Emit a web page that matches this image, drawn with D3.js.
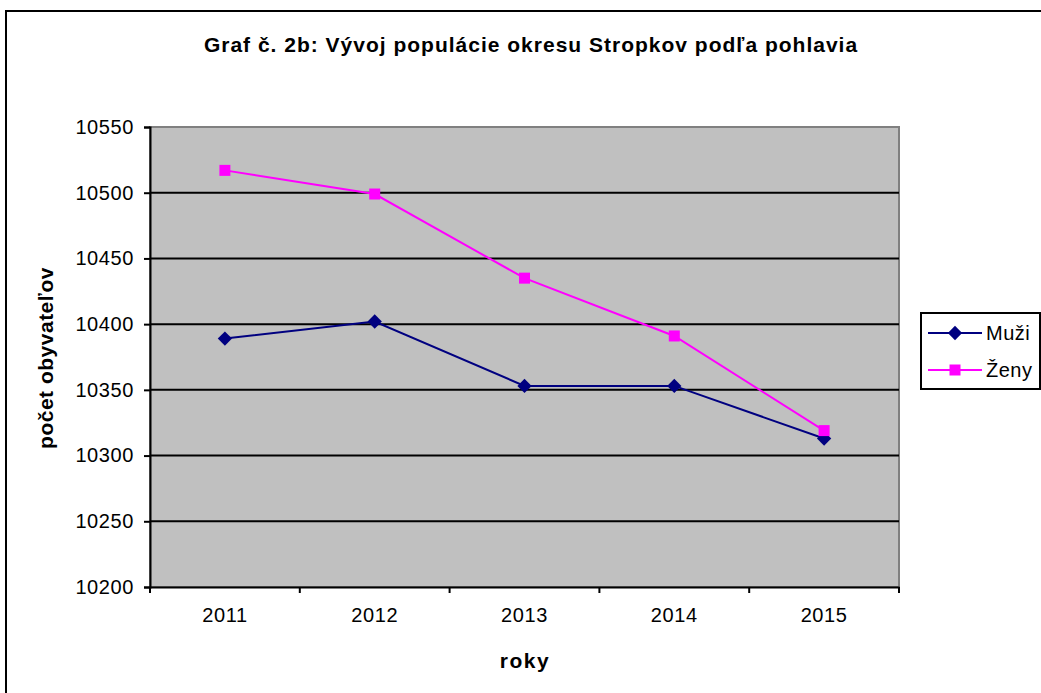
<!DOCTYPE html>
<html><head><meta charset="utf-8">
<script src="https://cdn.jsdelivr.net/npm/d3@7"></script>
<style>body{margin:0;background:#fff;} text{font-family:Arial,"Liberation Sans",sans-serif;}</style>
</head><body>
<svg id="chart" width="1041" height="693"></svg>
<script>
const years = ["2011","2012","2013","2014","2015"];
const muzi = [10389, 10402, 10353, 10353, 10313];
const zeny = [10517, 10499, 10435, 10391, 10319];
const yTicks = [10200,10250,10300,10350,10400,10450,10500,10550];
const seriesNames = ["Muži","Ženy"];
const title = "Graf č. 2b: Vývoj populácie okresu Stropkov podľa pohlavia";
const xTitle = "roky";
const yTitle = "počet obyvateľov";

const svg = d3.select("#chart");
const m = {left:150, right:899, top:127, bottom:587};
const FF = "Arial, 'Liberation Sans', sans-serif";

// outer frame
svg.append("rect").attr("x",6).attr("y",11).attr("width",1100).attr("height",800)
  .attr("fill","#fff").attr("stroke","#000").attr("stroke-width",2);

const x = d3.scaleBand().domain(years).range([m.left,m.right]);
const y = d3.scaleLinear().domain([10200,10550]).range([m.bottom,m.top]);

// plot bg
svg.append("rect").attr("x",m.left).attr("y",m.top).attr("width",m.right-m.left).attr("height",m.bottom-m.top)
  .attr("fill","#C0C0C0").attr("stroke","#808080").attr("stroke-width",2);

// gridlines
svg.append("g").selectAll("line").data(yTicks.slice(1,-1)).join("line")
  .attr("x1",m.left).attr("x2",m.right).attr("y1",d=>y(d)).attr("y2",d=>y(d))
  .attr("stroke","#000").attr("stroke-width",2);

// y axis
const ya = svg.append("g").attr("transform",`translate(${m.left},0)`)
  .call(d3.axisLeft(y).tickValues(yTicks).tickSize(6).tickPadding(10).tickFormat(d3.format("d")));
ya.select(".domain").attr("stroke","#000").attr("stroke-width",2);
ya.selectAll(".tick line").attr("stroke","#000").attr("stroke-width",2);
ya.selectAll(".tick text").attr("font-size",20).attr("letter-spacing",0.6).attr("fill","#000").attr("font-family",FF);

// x axis
const xa = svg.append("g").attr("transform",`translate(0,${m.bottom})`)
  .call(d3.axisBottom(x).tickSize(0).tickPadding(21));
xa.select(".domain").attr("stroke","#000").attr("stroke-width",2);
xa.selectAll(".tick text").attr("font-size",20).attr("letter-spacing",0.6).attr("fill","#000").attr("font-family",FF);
// category boundary ticks
const bounds = years.map(d=>x(d)).concat([x(years[years.length-1])+x.bandwidth()]);
svg.append("g").selectAll("line").data(bounds).join("line")
  .attr("x1",d=>d).attr("x2",d=>d).attr("y1",m.bottom).attr("y2",m.bottom+6)
  .attr("stroke","#000").attr("stroke-width",2);

const cx = d => x(d)+x.bandwidth()/2;
const line = d3.line().x((d,i)=>cx(years[i])).y(d=>y(d));

svg.append("path").datum(muzi).attr("d",line).attr("fill","none").attr("stroke","#000080").attr("stroke-width",2);
svg.append("path").datum(zeny).attr("d",line).attr("fill","none").attr("stroke","#FF00FF").attr("stroke-width",2);

const diamond = d3.symbol().type(d3.symbolDiamond2).size(130);
svg.append("g").selectAll("path").data(muzi).join("path")
  .attr("d",diamond).attr("transform",(d,i)=>`translate(${cx(years[i])},${y(d)})`)
  .attr("fill","#000080");
svg.append("g").selectAll("rect").data(zeny).join("rect")
  .attr("x",(d,i)=>cx(years[i])-5.5).attr("y",d=>y(d)-5.5).attr("width",11).attr("height",11)
  .attr("fill","#FF00FF");

// title
svg.append("text").attr("x",531).attr("y",52).attr("text-anchor","middle")
  .attr("font-size",21).attr("letter-spacing",1).attr("font-weight","bold").text(title);
svg.append("text").attr("x",525).attr("y",668).attr("text-anchor","middle")
  .attr("font-size",21).attr("font-weight","bold").attr("letter-spacing",1.5).text(xTitle);
svg.append("text").attr("transform","translate(53,358) rotate(-90)").attr("text-anchor","middle")
  .attr("font-size",21).attr("letter-spacing",0.5).attr("font-weight","bold").text(yTitle);

// legend
const lg = svg.append("g");
lg.append("rect").attr("x",921).attr("y",313).attr("width",119).attr("height",76)
  .attr("fill","#fff").attr("stroke","#000").attr("stroke-width",2);
const colors = ["#000080","#FF00FF"];
seriesNames.forEach((n,i)=>{
  const yy = 333 + i*37;
  lg.append("line").attr("x1",928).attr("x2",982).attr("y1",yy).attr("y2",yy).attr("stroke",colors[i]).attr("stroke-width",2);
  if(i===0){
    lg.append("path").attr("d",diamond).attr("transform",`translate(955,${yy})`).attr("fill",colors[i]);
  } else {
    lg.append("rect").attr("x",955-5.5).attr("y",yy-5.5).attr("width",11).attr("height",11).attr("fill",colors[i]);
  }
  lg.append("text").attr("x",986).attr("y",yy+7).attr("font-size",20).attr("letter-spacing",0.5).text(n);
});
</script>
</body></html>
